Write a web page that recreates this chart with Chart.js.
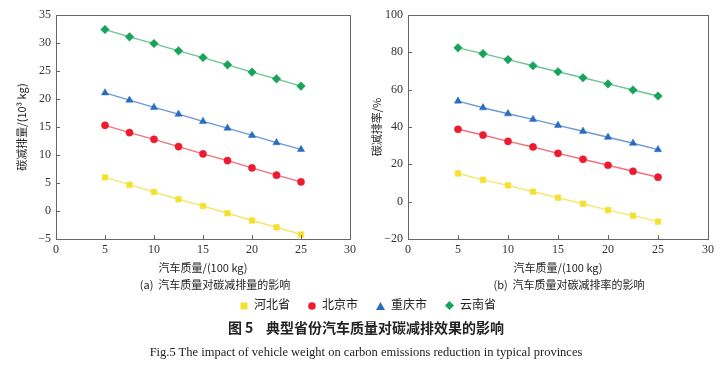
<!DOCTYPE html>
<html>
<head>
<meta charset="utf-8">
<script src="https://cdn.jsdelivr.net/npm/chart.js@4.4.1/dist/chart.umd.min.js"></script>
<style>
  body { margin: 0; background: #fff; width: 723px; height: 377px; position: relative; overflow: hidden; }
  canvas { position: absolute; top: 0; }
  .txt { position: absolute; white-space: nowrap; color: #222; transform: translateX(-50%); }
  .cjk { font-family: "Noto Sans CJK SC", sans-serif; }
  #legend span.item { margin: 0 9px; }
  #legend .mk { display: inline-block; vertical-align: middle; margin-right: 6px; }
</style>
</head>
<body>
<div style="position:absolute;left:0;width:360px;height:280px;top:0"><canvas id="chartA"></canvas></div>
<div style="position:absolute;left:360px;width:363px;height:280px;top:0"><canvas id="chartB"></canvas></div>
<div class="txt cjk" style="left:215px;top:276px;font-size:11px">(a)&nbsp; 汽车质量对碳减排量的影响</div>
<div class="txt cjk" style="left:569px;top:276px;font-size:11px">(b)&nbsp; 汽车质量对碳减排率的影响</div>
<div id="legend" class="txt cjk" style="left:368px;top:295px;font-size:12px"></div>
<div class="txt cjk" style="left:366px;top:317px;font-size:14px;font-weight:bold">图 5&nbsp;&nbsp;&nbsp; 典型省份汽车质量对碳减排效果的影响</div>
<div class="txt" style="left:366px;top:345px;font-size:12.5px;font-family:'Liberation Serif',serif">Fig.5 The impact of vehicle weight on carbon emissions reduction in typical provinces</div>
<script>
// 汽车质量 (100 kg)
const weights = [5, 7.5, 10, 12.5, 15, 17.5, 20, 22.5, 25];
const provinces = ['河北省', '北京市', '重庆市', '云南省'];

// (a) 碳减排量 / (10^3 kg)
const amountHebei     = [6.0, 4.7, 3.4, 2.1, 0.9, -0.4, -1.7, -2.9, -4.2];
const amountBeijing   = [15.3, 14.0, 12.8, 11.5, 10.2, 9.0, 7.7, 6.4, 5.2];
const amountChongqing = [21.1, 19.8, 18.5, 17.3, 16.0, 14.8, 13.5, 12.2, 11.0];
const amountYunnan    = [32.4, 31.1, 29.9, 28.6, 27.4, 26.1, 24.8, 23.6, 22.3];

// (b) 碳减排率 / %
const rateHebei     = [15.1, 11.7, 8.7, 5.3, 2.1, -1.1, -4.5, -7.5, -10.7];
const rateBeijing   = [38.8, 35.7, 32.3, 29.3, 25.9, 22.7, 19.5, 16.3, 13.1];
const rateChongqing = [53.9, 50.3, 47.1, 44.1, 40.9, 37.7, 34.5, 31.3, 27.9];
const rateYunnan    = [82.4, 79.3, 76.1, 72.8, 69.6, 66.4, 63.1, 59.8, 56.6];

const xTicks = [0, 5, 10, 15, 20, 25, 30];
const yTicksA = [-5, 0, 5, 10, 15, 20, 25, 30, 35];
const yTicksB = [-20, 0, 20, 40, 60, 80, 100];

const markColors = ['#f2e230', '#ee1b30', '#2b6cbf', '#17a45a'];
const lineColors = ['#f2e870', '#f2707c', '#6d98d6', '#6cc596'];
const shapes = ['rect', 'circle', 'triangle', 'rectRot'];
const radii = [4, 3.6, 4.2, 4.3];

const serif = "'Liberation Serif', 'Times New Roman', serif";
const cjk = "'Noto Sans CJK SC', sans-serif";

function makeSets(series) {
  return series.map((vals, i) => ({
    label: provinces[i],
    data: weights.map((w, j) => ({ x: w, y: vals[j] })),
    borderColor: lineColors[i],
    backgroundColor: markColors[i],
    pointBackgroundColor: markColors[i],
    pointBorderColor: markColors[i],
    pointBorderWidth: 0.5,
    pointStyle: shapes[i],
    pointRadius: radii[i],
    borderWidth: 1.4,
    tension: 0,
  }));
}

// frame + inward ticks
const framePlugin = {
  id: 'frame',
  afterDraw(chart) {
    const { ctx, chartArea: a, scales } = chart;
    ctx.save();
    ctx.strokeStyle = '#666';
    ctx.lineWidth = 1;
    ctx.strokeRect(a.left + 0.5, a.top + 0.5, a.right - a.left, a.bottom - a.top);
    ctx.beginPath();
    scales.x.ticks.forEach(t => {
      const px = Math.round(scales.x.getPixelForValue(t.value)) + 0.5;
      ctx.moveTo(px, a.bottom); ctx.lineTo(px, a.bottom - 4);
    });
    scales.y.ticks.forEach(t => {
      const py = Math.round(scales.y.getPixelForValue(t.value)) + 0.5;
      ctx.moveTo(a.left, py); ctx.lineTo(a.left + 4, py);
    });
    ctx.stroke();
    ctx.restore();
  }
};

function minus(v) { return String(v).replace('-', '\u2212'); }

function buildChart(id, series, yTicks, yTitle, yWidth, titlePad, padRight) {
  return new Chart(document.getElementById(id), {
    type: 'line',
    data: { datasets: makeSets(series) },
    plugins: [framePlugin],
    options: {
      responsive: true,
      maintainAspectRatio: false,
      animation: false,
      layout: { padding: { top: 15, right: padRight, left: 0, bottom: 0 } },
      plugins: { legend: { display: false }, tooltip: { enabled: false } },
      scales: {
        x: {
          type: 'linear',
          min: xTicks[0], max: xTicks[xTicks.length - 1],
          afterBuildTicks: s => { s.ticks = xTicks.map(v => ({ value: v })); },
          afterFit: s => { s.height = 41; },
          grid: { display: false, drawTicks: false },
          border: { display: false },
          ticks: { padding: 4, color: '#333', font: { family: serif, size: 12 }, callback: minus },
          title: { display: true, text: '汽车质量/(100 kg)', color: '#222', font: { family: cjk, size: 11 }, padding: { top: 0, bottom: 6 } }
        },
        y: {
          min: yTicks[0], max: yTicks[yTicks.length - 1],
          afterBuildTicks: s => { s.ticks = yTicks.map(v => ({ value: v })); },
          afterFit: s => { s.width = yWidth; },
          grid: { display: false, drawTicks: false },
          border: { display: false },
          ticks: { padding: 5, color: '#333', font: { family: serif, size: 12 }, callback: minus },
          title: { display: true, text: yTitle, color: '#222', font: { family: cjk, size: 11 }, padding: { top: titlePad, bottom: 0 } }
        }
      }
    }
  });
}

buildChart('chartA', [amountHebei, amountBeijing, amountChongqing, amountYunnan],
  yTicksA, '碳减排量/(10³ kg)', 56, 15, 7);
buildChart('chartB', [rateHebei, rateBeijing, rateChongqing, rateYunnan],
  yTicksB, '碳减排率/%', 48, 10, 15);

// legend
const legendSvg = [
  c => `<svg class="mk" width="8" height="8"><rect x="0.5" y="0.5" width="7" height="7" fill="${c}"/></svg>`,
  c => `<svg class="mk" width="8" height="8"><circle cx="4" cy="4" r="3.8" fill="${c}"/></svg>`,
  c => `<svg class="mk" width="9" height="8"><polygon points="4.5,0 9,8 0,8" fill="${c}"/></svg>`,
  c => `<svg class="mk" width="9" height="9"><polygon points="4.5,0 9,4.5 4.5,9 0,4.5" fill="${c}"/></svg>`
];
document.getElementById('legend').innerHTML = provinces.map((p, i) =>
  `<span class="item">${legendSvg[i](markColors[i])}${p}</span>`).join('');
</script>
</body>
</html>
